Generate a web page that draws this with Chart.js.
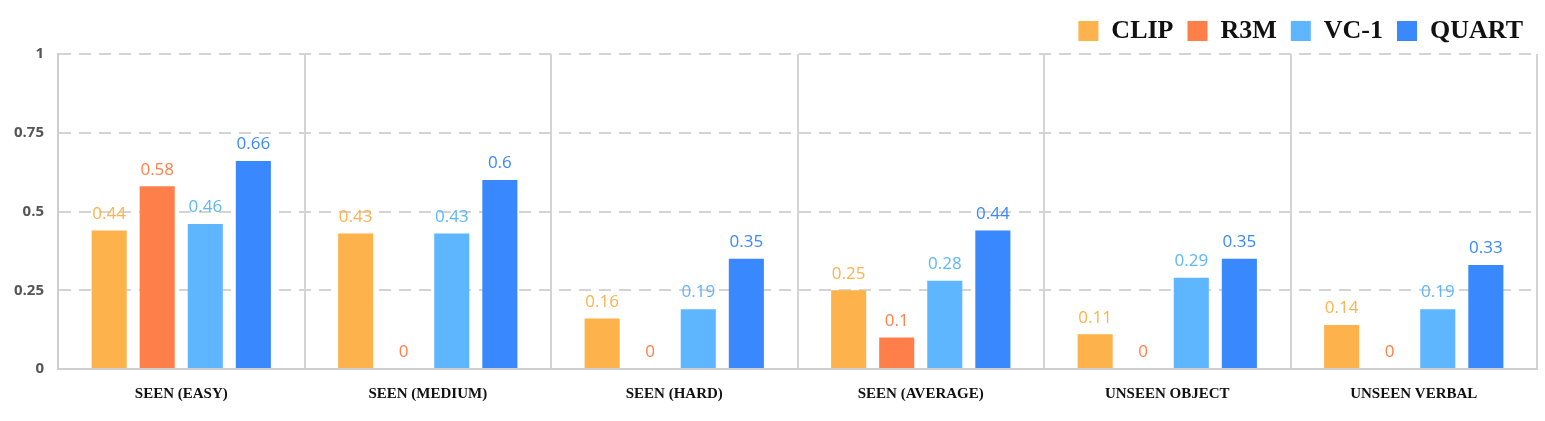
<!DOCTYPE html>
<html lang="en">
<head>
<meta charset="UTF-8">
<script src="https://cdn.jsdelivr.net/npm/chart.js"></script>
<style>
  body { margin: 0; background: #fff; }
  #wrap { width: 1545px; height: 421px; }
</style>
</head>
<body>
<div id="wrap"><canvas id="c"></canvas></div>
<script>
const categories = ['SEEN (EASY)', 'SEEN (MEDIUM)', 'SEEN (HARD)', 'SEEN (AVERAGE)', 'UNSEEN OBJECT', 'UNSEEN VERBAL'];
const clip  = [0.44, 0.43, 0.16, 0.25, 0.11, 0.14];
const r3m   = [0.58, 0, 0, 0.1, 0, 0];
const vc1   = [0.46, 0.43, 0.19, 0.28, 0.29, 0.19];
const quart = [0.66, 0.6, 0.35, 0.44, 0.35, 0.33];

const valueLabels = {
  id: 'valueLabels',
  afterDatasetsDraw(chart) {
    const ctx = chart.ctx;
    ctx.save();
    ctx.font = '17px "Open Sans", sans-serif';
    ctx.textAlign = 'center';
    ctx.textBaseline = 'bottom';
    chart.data.datasets.forEach((ds, i) => {
      ctx.fillStyle = ds.backgroundColor;
      chart.getDatasetMeta(i).data.forEach((bar, j) => {
        ctx.fillText(String(ds.data[j]), bar.x, bar.y - 8);
      });
    });
    ctx.restore();
  }
};

new Chart(document.getElementById('c'), {
  type: 'bar',
  data: {
    labels: categories,
    datasets: [
      { label: 'CLIP', data: clip, backgroundColor: '#FDB24B' },
      { label: 'R3M', data: r3m, backgroundColor: '#FF7F4A' },
      { label: 'VC-1', data: vc1, backgroundColor: '#5DB6FF' },
      { label: 'QUART', data: quart, backgroundColor: '#3A88FD' }
    ]
  },
  options: {
    responsive: true,
    maintainAspectRatio: false,
    animation: false,
    datasets: { bar: { categoryPercentage: 0.78, barPercentage: 0.73 } },
    layout: { padding: { left: 0, right: 8, top: 4, bottom: 2 } },
    plugins: {
      legend: {
        align: 'end',
        labels: {
          boxWidth: 20, boxHeight: 20, padding: 14,
          color: '#111',
          font: { family: '"Liberation Serif", serif', size: 26, weight: 'bold' }
        }
      },
      tooltip: { enabled: false }
    },
    scales: {
      x: {
        grid: { offset: true, color: '#d4d4d4', lineWidth: 2, drawTicks: false },
        border: { color: '#cfcfcf', width: 2 },
        ticks: {
          padding: 16, color: '#111',
          font: { family: '"Liberation Serif", serif', size: 15, weight: 'bold' }
        }
      },
      y: {
        min: 0, max: 1,
        ticks: {
          stepSize: 0.25,
          callback: v => String(v),
          padding: 14, color: '#555',
          font: { family: '"Open Sans", sans-serif', size: 15, weight: 'bold' }
        },
        grid: { color: '#d4d4d4', lineWidth: 2, drawTicks: false },
        border: { dash: [12, 8], color: '#cfcfcf', width: 2 }
      }
    }
  },
  plugins: [valueLabels]
});
</script>
</body>
</html>
